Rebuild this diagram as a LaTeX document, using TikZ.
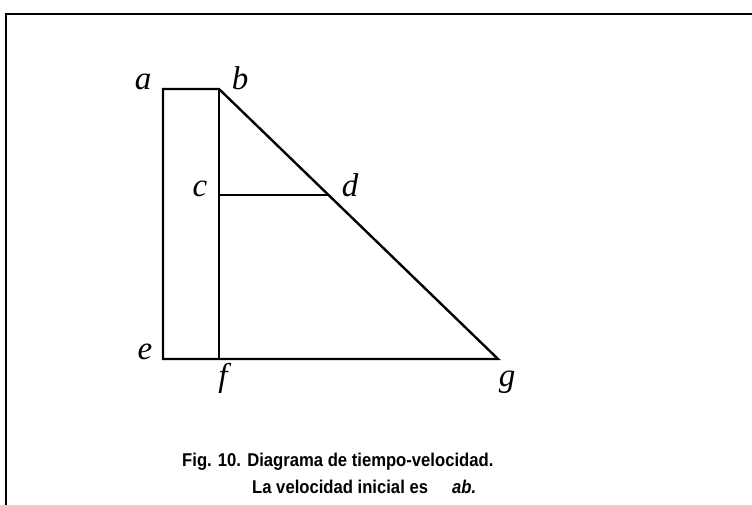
\documentclass[tikz,border=0pt]{standalone}
\usepackage{fontspec}
\setmainfont{Liberation Serif}
\newfontfamily\capfont[FakeStretch=0.9]{Liberation Sans}
\begin{document}
\begin{tikzpicture}[x=1pt,y=1pt,
  fig/.style={line width=2.4pt,line join=miter},
  framestyle/.style={line width=2.6pt},
  lbl/.style={font=\fontsize{33}{33}\selectfont\itshape,inner sep=0pt,anchor=base},
  captext/.style={font=\capfont\bfseries\fontsize{18.5}{20}\selectfont,inner sep=0pt,anchor=base west}]
\useasboundingbox (0,0) rectangle (752,505);
\coordinate (a) at (163,416);
\coordinate (b) at (219,416);
\coordinate (c) at (219,310);
\coordinate (d) at (328,310);
\coordinate (e) at (163,146);
\coordinate (f) at (219,146);
\coordinate (g) at (498,146);
\coordinate (fb) at (6,0);
\coordinate (ft) at (6,491);
\coordinate (fr) at (752,491);
\draw[framestyle] (fb) -- (ft) -- (fr);
\draw[fig] (e) -- (a) -- (b) -- (g) -- cycle;
\draw[fig] (b) -- (f);
\draw[fig] (c) -- (d);
\node[lbl] (la) at (143,415) {a};
\node[lbl] (lb) at (240,415) {b};
\node[lbl] (lc) at (200,308) {c};
\node[lbl] (ld) at (350,308) {d};
\node[lbl] (le) at (145,145) {e};
\node[lbl] (lf) at (223,118) {f};
\node[lbl] (lg) at (507,118) {g};
\node[captext] (c1) at (182,38) {Fig. 10. Diagrama de tiempo-velocidad.};
\node[captext] (c2) at (252,11) {La velocidad inicial es};
\node[captext,font=\capfont\bfseries\itshape\fontsize{18.5}{20}\selectfont] (c3) at (452,11) {ab.};
\end{tikzpicture}
\end{document}
